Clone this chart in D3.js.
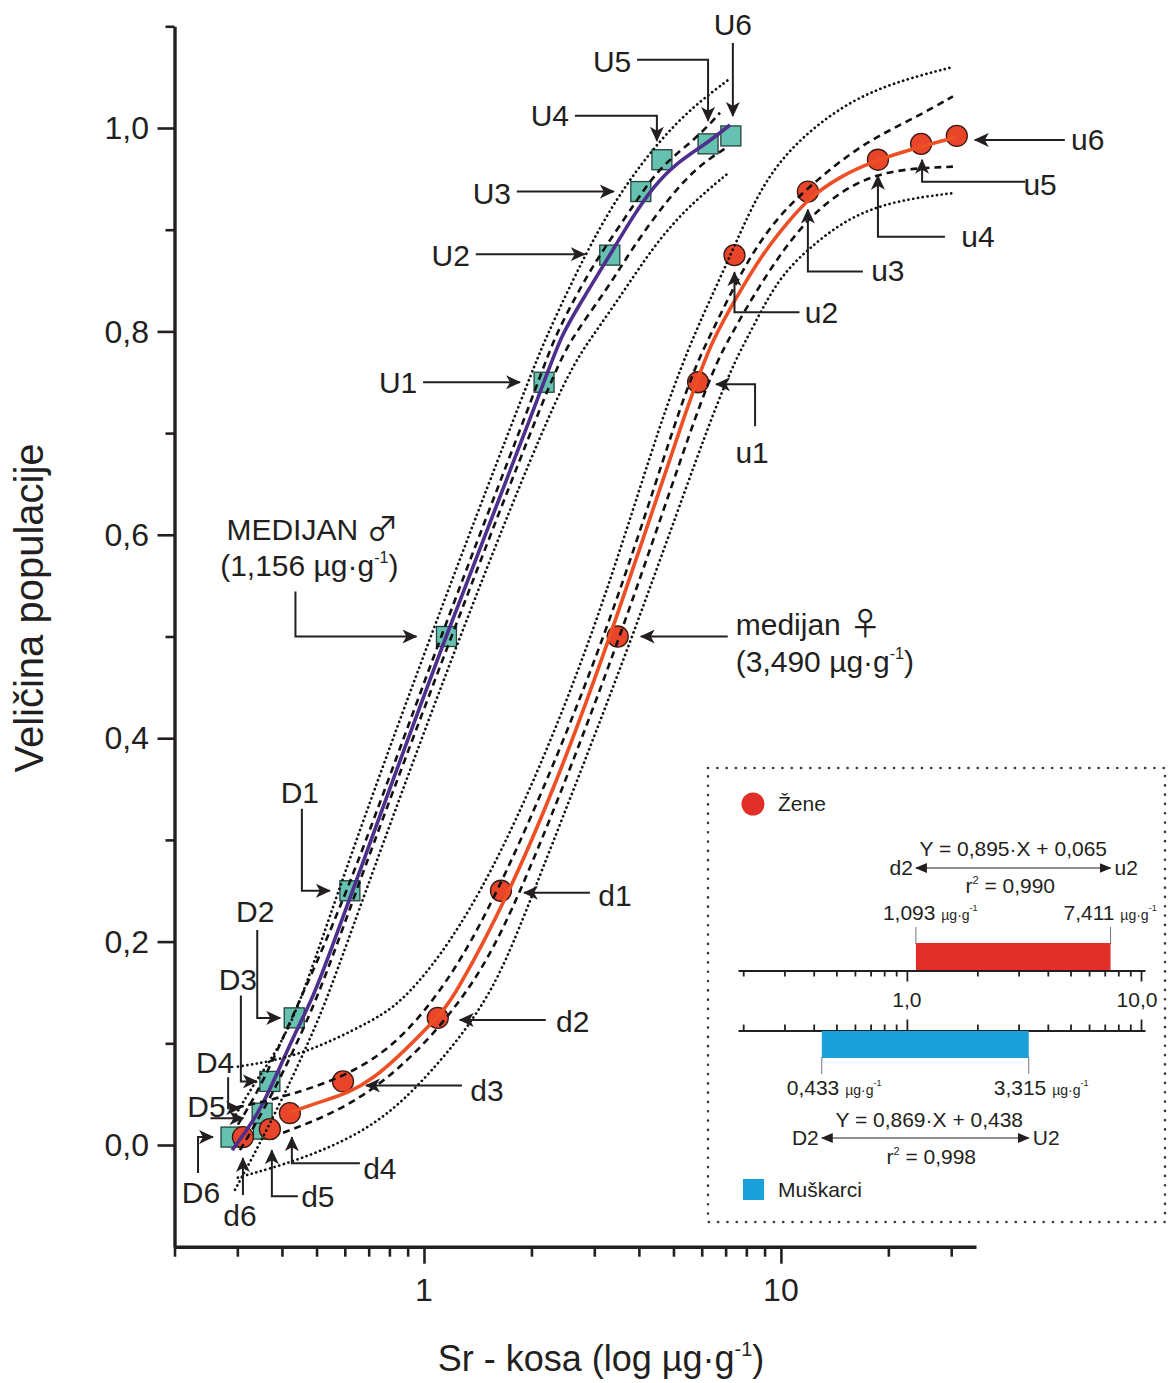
<!DOCTYPE html>
<html><head><meta charset="utf-8">
<script src="https://cdn.jsdelivr.net/npm/d3@7"></script>
<style>
body{margin:0;background:#fff}
svg{display:block}
text{font-family:"Liberation Sans",Arial,Helvetica,sans-serif;fill:#231f20}
</style>
</head><body>
<svg id="c" width="1168" height="1383"></svg>
<script>
// ---------------- DATA ----------------
const quantileLevels = [0.0078, 0.0156, 0.0313, 0.0625, 0.125, 0.25, 0.5, 0.75, 0.875, 0.9375, 0.9688, 0.9844, 0.9922];
const maleLabels   = ["D6","D5","D4","D3","D2","D1","MEDIJAN","U1","U2","U3","U4","U5","U6"];
const maleSr       = [0.288, 0.355, 0.352, 0.370, 0.433, 0.620, 1.156, 2.17, 3.315, 4.05, 4.64, 6.25, 7.24];
const femaleLabels = ["d6","d5","d4","d3","d2","d1","medijan","u1","u2","u3","u4","u5","u6"];
const femaleSr     = [0.311, 0.370, 0.421, 0.593, 1.093, 1.643, 3.490, 5.86, 7.411, 11.9, 18.7, 24.7, 31.1];

// fitted curves and bands as [Sr, fraction]
const maleFit = [[0.290,-0.005],[0.315,0.012],[0.347,0.034],[0.383,0.066],[0.435,0.110],[0.486,0.143],[0.545,0.189],[0.633,0.251],[1.145,0.500],[2.168,0.748],[2.404,0.795],[2.86,0.838],[3.38,0.880],[3.85,0.913],[4.38,0.942],[5.11,0.966],[6.20,0.985],[7.20,1.003]];
const maleConfUpper = [[0.301,0.020],[0.352,0.059],[0.4495,0.143],[0.617,0.251],[1.109,0.500],[2.086,0.748],[2.298,0.792],[2.789,0.848],[3.173,0.880],[3.951,0.929],[4.58,0.962],[5.855,0.991],[6.75,1.015]];
const maleConfLower = [[0.305,-0.005],[0.370,0.044],[0.505,0.143],[0.645,0.251],[1.190,0.500],[2.239,0.748],[2.564,0.792],[3.256,0.841],[3.849,0.883],[4.794,0.929],[5.818,0.962],[7.057,0.981]];
const malePredUpper = [[0.297,0.030],[0.343,0.067],[0.427,0.113],[0.574,0.251],[1.039,0.500],[1.943,0.748],[2.182,0.792],[2.615,0.851],[3.112,0.903],[3.704,0.946],[4.58,0.988],[5.67,1.021],[7.10,1.047]];
const malePredLower = [[0.2955,-0.044],[0.343,-0.002],[0.416,0.057],[0.473,0.100],[0.535,0.143],[0.688,0.251],[1.253,0.500],[2.404,0.748],[2.917,0.792],[3.609,0.838],[4.38,0.883],[5.454,0.922],[7.194,0.957]];

const femaleFit = [[0.421,0.032],[0.528,0.044],[0.706,0.058],[1.087,0.125],[1.206,0.143],[1.741,0.248],[2.45,0.372],[3.38,0.506],[5.74,0.749],[6.45,0.792],[7.43,0.831],[8.90,0.877],[10.6,0.910],[12.06,0.932],[14.6,0.952],[17.8,0.966],[22.5,0.978],[31.1,0.991]];
const femaleConfUpper = [[0.299,0.037],[0.408,0.047],[0.729,0.077],[1.109,0.146],[1.633,0.248],[3.277,0.500],[5.42,0.748],[6.325,0.795],[7.83,0.863],[9.745,0.913],[12.61,0.949],[16.97,0.985],[24.04,1.011],[30.33,1.031]];
const femaleConfLower = [[0.403,0.012],[0.729,0.047],[1.346,0.146],[1.882,0.248],[3.586,0.500],[6.125,0.748],[7.195,0.795],[8.90,0.851],[11.30,0.903],[14.35,0.936],[19.31,0.959],[30.33,0.962]];
const femalePredUpper = [[0.301,0.077],[0.4495,0.087],[0.729,0.123],[0.914,0.146],[1.502,0.248],[3.032,0.500],[4.888,0.748],[6.879,0.857],[8.566,0.936],[10.60,0.981],[14.63,1.021],[20.20,1.044],[30.33,1.060]];
const femalePredLower = [[0.301,-0.032],[0.4495,-0.015],[0.729,0.017],[1.039,0.069],[1.561,0.146],[2.020,0.248],[3.873,0.500],[6.835,0.748],[8.19,0.798],[9.745,0.851],[12.06,0.883],[15.61,0.913],[21.14,0.929],[30.33,0.936]];

const xTickValues = [0.2,0.3,0.4,0.5,0.6,0.7,0.8,0.9,1,2,3,4,5,6,7,8,9,10,20,30];
const xMajorTicks = [1,10];
const xTickLabels = ["1","10"];
const yTickValues = [0,0.1,0.2,0.3,0.4,0.5,0.6,0.7,0.8,0.9,1.0,1.1];
const yMajorTicks = [0,0.2,0.4,0.6,0.8,1.0];
const yTickLabels = ["0,0","0,2","0,4","0,6","0,8","1,0"];

const legendTickValues = [0.2,0.3,0.4,0.5,0.6,0.7,0.8,0.9,1,2,3,4,5,6,7,8,9,10];
const legendMajor = [1,10];
const legendTickLabels = ["1,0","10,0"];
const femaleRange = [1.093, 7.411];
const maleRange = [0.433, 3.315];
const femaleEquation = "Y = 0,895·X + 0,065";
const femaleR2 = "0,990";
const maleEquation = "Y = 0,869·X + 0,438";
const maleR2 = "0,998";
const seriesNames = ["Žene","Muškarci"];

// ---------------- STYLE ----------------
const C = {red:"#e8452a", redLine:"#ee4f24", teal:"#66c1b0", purple:"#4e2f8e", legRed:"#e22e29", legBlue:"#1aa1dc", ink:"#231f20"};
const FONT_LBL = 30;

const svg = d3.select("#c");
const x = d3.scaleLog().domain([0.2, 35.2]).range([174.5, 976]);
const y = d3.scaleLinear().domain([-0.1, 1.1]).range([1246.7, 26.3]);

function txt(g, px, pyc, fs, str, anchor){
  return g.append("text").attr("x",px).attr("y",pyc+0.35*fs).attr("font-size",fs)
    .attr("text-anchor",anchor||"middle").text(str);
}
function supText(g, px, pyc, fs, parts, anchor){
  // parts: [[text, size, supFlag, family]]
  const t = g.append("text").attr("x",px).attr("y",pyc+0.35*fs).attr("font-size",fs).attr("text-anchor",anchor||"middle")
    .attr("xml:space","preserve");
  let raised = 0;
  parts.forEach(([s, sz, sup, fam])=>{
    const sp = t.append("tspan").attr("font-size", sz).text(s);
    if (fam) sp.attr("font-family", fam);
    const target = sup ? -Math.round(fs*0.42) : 0;
    if (target !== raised){ sp.attr("dy", target - raised); raised = target; }
  });
  return t;
}

// arrow markers
const defs = svg.append("defs");
defs.append("marker").attr("id","arr").attr("viewBox","0 -7 15 14").attr("refX",14).attr("refY",0)
  .attr("markerWidth",15).attr("markerHeight",14).attr("markerUnits","userSpaceOnUse").attr("orient","auto")
  .append("path").attr("d","M0,-7 L15,0 L0,7 L4,0 Z").attr("fill",C.ink);
defs.append("marker").attr("id","tri").attr("viewBox","0 -5 12 10").attr("refX",11).attr("refY",0)
  .attr("markerWidth",12).attr("markerHeight",10).attr("markerUnits","userSpaceOnUse").attr("orient","auto-start-reverse")
  .append("path").attr("d","M0,-5 L12,0 L0,5 Z").attr("fill",C.ink);

// ---------------- AXES ----------------
const gx = svg.append("g").attr("transform",`translate(0,${y(-0.1)})`)
  .call(d3.axisBottom(x).tickValues(xTickValues).tickSize(10).tickSizeOuter(0).tickFormat(""));
gx.selectAll(".tick line").attr("y2", d=>xMajorTicks.includes(d)?17:10).attr("stroke-width",2.6).attr("stroke",C.ink);
gx.select(".domain").attr("stroke-width",3.4).attr("stroke",C.ink);
xMajorTicks.forEach((v,i)=> txt(svg, x(v), 1290, 32, xTickLabels[i]));

const gy = svg.append("g").attr("transform",`translate(${x(0.2)},0)`)
  .call(d3.axisLeft(y).tickValues(yTickValues).tickSize(9).tickSizeOuter(0).tickFormat(""));
gy.selectAll(".tick line").attr("x2", d=>yMajorTicks.some(m=>Math.abs(m-d)<1e-9)?-17:-9).attr("stroke-width",2.6).attr("stroke",C.ink);
gy.select(".domain").attr("stroke-width",3.4).attr("stroke",C.ink);
yMajorTicks.forEach((v,i)=> txt(svg, 149, y(v), 32, yTickLabels[i], "end"));

// axis titles
supText(svg, 601, 1358, 36, [["Sr - kosa (log µg·g",36,false],["-1",20,true],[")",36,false]]);
svg.append("text").attr("transform",`translate(43,608) rotate(-90)`).attr("font-size",40)
  .attr("text-anchor","middle").text("Veličina populacije");

// ---------------- MARKERS ----------------
const plot = svg.append("g");
plot.selectAll("rect.m").data(maleSr).join("rect").attr("class","m")
  .attr("x",(d)=>x(d)-10).attr("y",(d,i)=>y(quantileLevels[i])-10).attr("width",20).attr("height",20)
  .attr("fill",C.teal).attr("stroke","#24433d").attr("stroke-width",1.3);
plot.selectAll("circle.f").data(femaleSr).join("circle").attr("class","f")
  .attr("cx",d=>x(d)).attr("cy",(d,i)=>y(quantileLevels[i])).attr("r",10.5)
  .attr("fill",C.red).attr("stroke","#3b1a12").attr("stroke-width",1.3);

// ---------------- CURVES ----------------
const lineGen = d3.line().x(d=>x(d[0])).y(d=>y(d[1])).curve(d3.curveBasis);
plot.append("path").attr("d",lineGen(maleFit)).attr("fill","none").attr("stroke",C.purple).attr("stroke-width",3.6);
plot.append("path").attr("d",lineGen(femaleFit)).attr("fill","none").attr("stroke",C.redLine).attr("stroke-width",3.6);
[maleConfUpper, maleConfLower, femaleConfUpper, femaleConfLower].forEach(b=>
  plot.append("path").attr("d",lineGen(b)).attr("fill","none").attr("stroke","#111").attr("stroke-width",2.6).attr("stroke-dasharray","7,5"));
[malePredUpper, malePredLower, femalePredUpper, femalePredLower].forEach(b=>
  plot.append("path").attr("d",lineGen(b)).attr("fill","none").attr("stroke","#111").attr("stroke-width",2.7)
    .attr("stroke-linecap","round").attr("stroke-dasharray","0.1,4.7"));

// ---------------- ANNOTATIONS ----------------
const maleAnnot = [
  {i:12, label:[2,-111], path:[[2,-93],[2,-20]]},
  {i:11, label:[-96,-82], path:[[-71,-84],[0,-84],[0,-23]]},
  {i:10, label:[-112,-44], path:[[-87,-44],[-5,-44],[-5,-19]]},
  {i:9,  label:[-149,2], path:[[-124,0],[-27,0]]},
  {i:8,  label:[-159,0], path:[[-134,-1],[-25,-1]]},
  {i:7,  label:[-146,0], path:[[-121,0],[-24,0]]},
  {i:5,  label:[-50,-98], path:[[-48,-82],[-48,0],[-20,0]]},
  {i:4,  label:[-39,-106], path:[[-37,-88],[-37,0],[-14,0]]},
  {i:3,  label:[-32,-102], path:[[-29,-86],[-29,0],[-13,0]]},
  {i:2,  label:[-47,-51], path:[[-34,-36],[-34,-5],[-22,-5]]},
  {i:1,  label:[-57,-23], path:[[-53,-11],[-20,-11]]},
  {i:0,  label:[-30,55], path:[[-33,36],[-33,0],[-18,0]]}
];
const femaleAnnot = [
  {i:12, label:[131,4], path:[[108,4],[18,4]]},
  {i:11, label:[119,41], path:[[104,38],[1,38],[1,16]]},
  {i:10, label:[100,77], path:[[67,77],[0,77],[0,16]]},
  {i:9,  label:[80,79], path:[[55,80],[0,80],[0,18]]},
  {i:8,  label:[87,57], path:[[65,57],[0,57],[0,17]]},
  {i:7,  label:[54,70], path:[[57,44],[57,2],[18,2]]},
  {i:5,  label:[114,5], path:[[89,2],[23,2]]},
  {i:4,  label:[135,4], path:[[108,2],[22,2]]},
  {i:3,  label:[144,9], path:[[119,4],[23,4]]},
  {i:2,  label:[90,55], path:[[70,50],[2,50],[2,24]]},
  {i:1,  label:[48,67], path:[[28,67],[2,67],[2,21]]},
  {i:0,  label:[-3,78], path:[[0,58],[0,21]]}
];
const ann = svg.append("g");
function drawAnnot(list, vals, labels){
  list.forEach(a=>{
    const tx = x(vals[a.i]), ty = y(quantileLevels[a.i]);
    ann.append("path").attr("d", d3.line()(a.path.map(p=>[tx+p[0], ty+p[1]])))
      .attr("fill","none").attr("stroke",C.ink).attr("stroke-width",2).attr("marker-end","url(#arr)");
    txt(ann, tx+a.label[0], ty+a.label[1], FONT_LBL, labels[a.i]);
  });
}
drawAnnot(maleAnnot, maleSr, maleLabels);
drawAnnot(femaleAnnot, femaleSr, femaleLabels);

const fmt = v => d3.format(".3f")(v).replace(".", ",");
const SYM = "'Noto Sans CJK JP','DejaVu Sans',sans-serif";
// male median
{
  const tx = x(maleSr[6]), ty = y(quantileLevels[6]);
  ann.append("path").attr("d", d3.line()([[tx-151,ty-45],[tx-151,ty],[tx-30,ty]]))
    .attr("fill","none").attr("stroke",C.ink).attr("stroke-width",2).attr("marker-end","url(#arr)");
  supText(ann, tx-48, ty-107, FONT_LBL, [["MEDIJAN ",FONT_LBL,false],["♂",32,false,SYM]], "end");
  supText(ann, tx-48, ty-71, FONT_LBL, [["("+fmt(maleSr[6])+" µg·g",FONT_LBL,false],["-1",16,true],[")",FONT_LBL,false]], "end");
}
// female median
{
  const tx = x(femaleSr[6]), ty = y(quantileLevels[6]);
  ann.append("path").attr("d", d3.line()([[tx+110,ty],[tx+23,ty]]))
    .attr("fill","none").attr("stroke",C.ink).attr("stroke-width",2).attr("marker-end","url(#arr)");
  supText(ann, tx+118, ty-12, FONT_LBL, [["medijan ",FONT_LBL,false],["♀",32,false,SYM]], "start");
  supText(ann, tx+118, ty+25, FONT_LBL, [["("+fmt(femaleSr[6])+" µg·g",FONT_LBL,false],["-1",16,true],[")",FONT_LBL,false]], "start");
}

// ---------------- LEGEND ----------------
const lg = svg.append("g");
lg.append("rect").attr("x",708).attr("y",768).attr("width",457).attr("height",454)
  .attr("fill","none").attr("stroke","#3a3a3a").attr("stroke-width",2.6)
  .attr("stroke-dasharray","0.1,9.2").attr("stroke-linecap","round");
const lx = d3.scaleLog().domain([0.19, 10.4]).range([738, 1145]);
const LF = 21;

lg.append("circle").attr("cx",753).attr("cy",804).attr("r",11.5).attr("fill",C.legRed);
txt(lg, 778, 804, LF, seriesNames[0], "start");
lg.append("rect").attr("x",743).attr("y",1179).attr("width",21).attr("height",21).attr("fill",C.legBlue);
txt(lg, 778, 1190, LF, seriesNames[1], "start");

// female block
txt(lg, (lx(femaleRange[0])+lx(femaleRange[1]))/2, 849, LF, femaleEquation);
lg.append("path").attr("d", d3.line()([[lx(femaleRange[0]),868],[lx(femaleRange[1]),868]]))
  .attr("stroke",C.ink).attr("stroke-width",1.2).attr("marker-start","url(#tri)").attr("marker-end","url(#tri)");
txt(lg, lx(femaleRange[0])-3, 868, LF, femaleLabels[4], "end");
txt(lg, lx(femaleRange[1])+4, 868, LF, femaleLabels[8], "start");
supText(lg, (lx(femaleRange[0])+lx(femaleRange[1]))/2 - 3, 886, LF, [["r",LF,false],["2",11,true],[" = "+femaleR2,LF,false]]);
femaleRange.forEach((v,k)=>{
  lg.append("line").attr("x1",lx(v)).attr("x2",lx(v)).attr("y1",927).attr("y2",944).attr("stroke","#777").attr("stroke-width",1);
  supText(lg, lx(v)-(k?47:33), 913, LF, [[fmt(v)+" ",LF,false],["µg·g",14,false],["-1",9,true]], "start");
});
lg.append("rect").attr("x",lx(femaleRange[0])).attr("y",943).attr("width",lx(femaleRange[1])-lx(femaleRange[0])).attr("height",27).attr("fill",C.legRed);

// legend axes
const la1 = lg.append("g").attr("transform","translate(0,970.5)")
  .call(d3.axisBottom(lx).tickValues(legendTickValues).tickSize(6).tickSizeOuter(0).tickFormat(""));
la1.selectAll(".tick line").attr("y2", d=>legendMajor.includes(d)?11:6).attr("stroke-width",1.8).attr("stroke",C.ink);
la1.select(".domain").attr("stroke-width",2.2).attr("stroke",C.ink);
const la2 = lg.append("g").attr("transform","translate(0,1030.5)")
  .call(d3.axisTop(lx).tickValues(legendTickValues).tickSize(6).tickSizeOuter(0).tickFormat(""));
la2.selectAll(".tick line").attr("y2", d=>legendMajor.includes(d)?-11:-6).attr("stroke-width",1.8).attr("stroke",C.ink);
la2.select(".domain").attr("stroke-width",2.2).attr("stroke",C.ink);
legendMajor.forEach((v,i)=> txt(lg, lx(v)-(i?4:0), 1000, LF, legendTickLabels[i]));

// male block
lg.append("rect").attr("x",lx(maleRange[0])).attr("y",1031).attr("width",lx(maleRange[1])-lx(maleRange[0])).attr("height",27).attr("fill",C.legBlue);
maleRange.forEach(v=>{
  lg.append("line").attr("x1",lx(v)).attr("x2",lx(v)).attr("y1",1057).attr("y2",1074).attr("stroke","#777").attr("stroke-width",1);
  supText(lg, lx(v)-35, 1088, LF, [[fmt(v)+" ",LF,false],["µg·g",14,false],["-1",9,true]], "start");
});
txt(lg, (lx(maleRange[0])+lx(maleRange[1]))/2 + 4, 1120, LF, maleEquation);
lg.append("path").attr("d", d3.line()([[lx(maleRange[0]),1138],[lx(maleRange[1]),1138]]))
  .attr("stroke",C.ink).attr("stroke-width",1.2).attr("marker-start","url(#tri)").attr("marker-end","url(#tri)");
txt(lg, lx(maleRange[0])-3, 1138, LF, maleLabels[4], "end");
txt(lg, lx(maleRange[1])+4, 1138, LF, maleLabels[8], "start");
supText(lg, (lx(maleRange[0])+lx(maleRange[1]))/2 + 6, 1157, LF, [["r",LF,false],["2",11,true],[" = "+maleR2,LF,false]]);
</script>
</body></html>
